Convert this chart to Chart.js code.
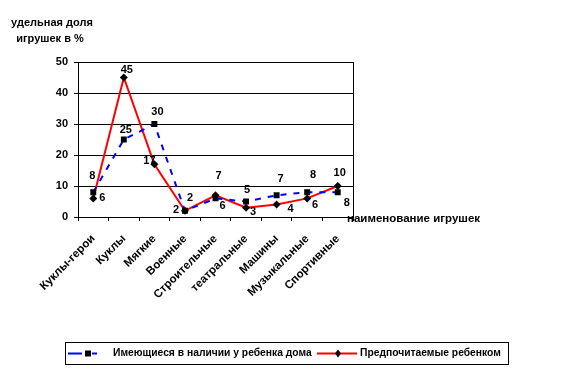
<!DOCTYPE html>
<html>
<head>
<meta charset="utf-8">
<script src="https://cdn.jsdelivr.net/npm/chart.js@4/dist/chart.umd.min.js"></script>
<style>
html,body{margin:0;padding:0;background:#fff;}
#wrap{position:relative;width:573px;height:373px;}
</style>
</head>
<body>
<div id="wrap"><canvas id="c" width="573" height="373"></canvas></div>
<script>
// ---- data ----
const categories = ["Куклы-герои","Куклы","Мягкие","Военные","Строительные","театральные","Машины","Музыкальные","Спортивные"];
const seriesNames = ["Имеющиеся в наличии у ребенка дома","Предпочитаемые ребенком"];
const haveAtHome = [8, 25, 30, 2, 6, 5, 7, 8, 8];
const preferred = [6, 45, 17, 2, 7, 3, 4, 6, 10];
const yTicks = [0, 10, 20, 30, 40, 50];
const yTitleLines = ["удельная доля", "игрушек в %"];
const xTitle = "наименование игрушек";

// label offsets (px, relative to point) — styling only
const haveLabelOffsets = [[-1,-16],[2,-10],[3,-12],[5,-13],[7,8],[1,-12],[4,-16],[6,-17],[9,11]];
const prefLabelOffsets = [[9,0],[3,-8],[-5,-3],[-9,-1],[3,-19],[7,4],[14,4],[8,7],[2,-13]];

const FONT = '"Liberation Sans", Arial, sans-serif';

const extras = {
  id: 'extras',
  afterDatasetsDraw(chart) {
    const ctx = chart.ctx;
    const a = chart.chartArea;
    ctx.save();
    // right border
    ctx.strokeStyle = '#000';
    ctx.lineWidth = 1;
    ctx.beginPath();
    ctx.moveTo(Math.round(a.right) + 0.5, a.top);
    ctx.lineTo(Math.round(a.right) + 0.5, a.bottom + 4);
    ctx.stroke();
    // data labels
    ctx.fillStyle = '#000';
    ctx.font = 'bold 11px ' + FONT;
    ctx.textAlign = 'center';
    ctx.textBaseline = 'middle';
    const offs = [haveLabelOffsets, prefLabelOffsets];
    chart.data.datasets.forEach((ds, di) => {
      const meta = chart.getDatasetMeta(di);
      meta.data.forEach((pt, i) => {
        const o = offs[di][i];
        ctx.fillText(String(ds.data[i]), pt.x + o[0], pt.y + o[1]);
      });
    });
    // y title
    ctx.font = 'bold 11px ' + FONT;
    ctx.fillText(yTitleLines[0], 52, 23);
    ctx.fillText(yTitleLines[1], 50, 39);
    // x title
    ctx.textAlign = 'left';
    ctx.font = 'bold 11.5px ' + FONT;
    ctx.fillText(xTitle, 347, 219);
    // legend
    ctx.strokeStyle = '#000';
    ctx.lineWidth = 1;
    ctx.strokeRect(65.5, 342.5, 443, 22);
    const ly = 353.5;
    // blue item
    ctx.strokeStyle = '#0000FF';
    ctx.lineWidth = 2;
    ctx.setLineDash([14, 10, 5, 20]);
    ctx.beginPath(); ctx.moveTo(68, ly); ctx.lineTo(107, ly); ctx.stroke();
    ctx.setLineDash([]);
    ctx.fillStyle = '#000';
    ctx.fillRect(85, ly - 3, 6, 6);
    ctx.font = 'bold 10.3px ' + FONT;
    ctx.textBaseline = 'middle';
    ctx.fillText(chart.data.datasets[0].label, 113, ly);
    // red item
    ctx.strokeStyle = '#FF0000';
    ctx.beginPath(); ctx.moveTo(317, ly); ctx.lineTo(357, ly); ctx.stroke();
    ctx.fillStyle = '#000';
    ctx.beginPath();
    ctx.moveTo(338, ly - 4); ctx.lineTo(341, ly); ctx.lineTo(338, ly + 4); ctx.lineTo(335, ly); ctx.closePath();
    ctx.fill();
    ctx.fillText(chart.data.datasets[1].label, 360, ly);
    ctx.restore();
  }
};

new Chart(document.getElementById('c'), {
  type: 'line',
  data: {
    labels: categories,
    datasets: [
      {
        label: seriesNames[0],
        data: haveAtHome,
        borderColor: '#0000FF',
        borderWidth: 2,
        borderDash: [6, 7],
        pointStyle: 'rect',
        pointRadius: 4.2,
        pointBackgroundColor: '#000',
        pointBorderColor: '#000',
        pointBorderWidth: 0,
        tension: 0,
        fill: false
      },
      {
        label: seriesNames[1],
        data: preferred,
        borderColor: '#FF0000',
        borderWidth: 2,
        pointStyle: 'rectRot',
        pointRadius: 4,
        pointBackgroundColor: '#000',
        pointBorderColor: '#000',
        pointBorderWidth: 0,
        tension: 0,
        fill: false
      }
    ]
  },
  options: {
    responsive: false,
    animation: false,
    events: [],
    layout: { padding: { left: 0, right: 220, top: 62, bottom: 0 } },
    plugins: { legend: { display: false }, tooltip: { enabled: false } },
    scales: {
      x: {
        offset: true,
        grid: { display: true, offset: true, drawOnChartArea: false, drawTicks: true, tickLength: 4, color: '#000' },
        border: { display: true, color: '#000', width: 1 },
        ticks: { color: '#000', font: { family: FONT, size: 11.5, weight: 'bold' }, maxRotation: 45, minRotation: 45, autoSkip: false, padding: 11 },
        afterFit(s) { s.height = 156; }
      },
      y: {
        min: 0, max: 50,
        afterBuildTicks(s) { s.ticks = yTicks.map(v => ({ value: v })); },
        grid: { color: '#000', lineWidth: 1, tickLength: 4, drawTicks: true },
        border: { display: true, color: '#000', width: 1 },
        ticks: { color: '#000', font: { family: FONT, size: 11, weight: 'bold' }, padding: 6 },
        afterFit(s) { s.width = 78; }
      }
    }
  },
  plugins: [extras]
});
</script>
</body>
</html>
